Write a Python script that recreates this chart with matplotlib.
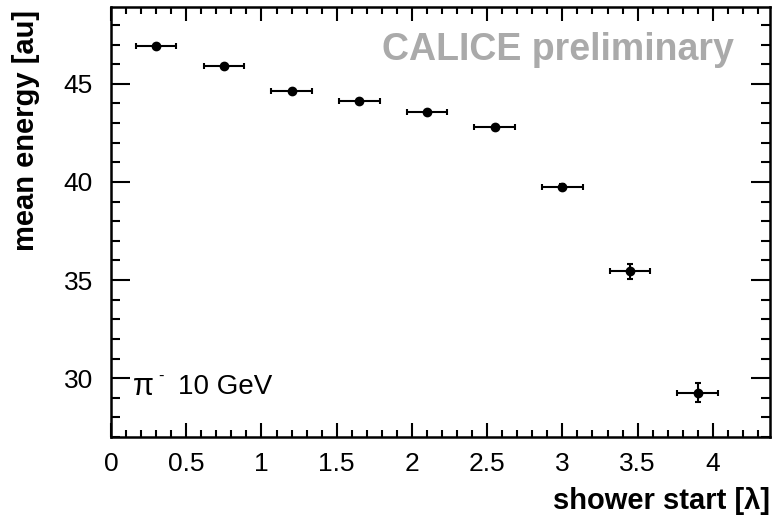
import matplotlib
matplotlib.use("Agg")
import matplotlib.pyplot as plt
from matplotlib.ticker import MultipleLocator

plt.rcParams['font.family'] = ['Liberation Sans', 'DejaVu Sans']

# --- data ---
shower_start = [0.30, 0.75, 1.20, 1.65, 2.10, 2.55, 3.00, 3.45, 3.90]
mean_energy = [46.95, 45.93, 44.62, 44.13, 43.55, 42.79, 39.72, 35.45, 29.26]
x_err = [0.135] * 9
y_err = [0.08, 0.09, 0.1, 0.1, 0.1, 0.12, 0.15, 0.38, 0.5]

fig = plt.figure(figsize=(7.72, 5.16), dpi=100)
ax = fig.add_axes([0.1438, 0.1531, 0.8536, 0.8328])

ax.errorbar(shower_start, mean_energy, xerr=x_err, yerr=y_err, fmt='o',
            color='black', ms=6, elinewidth=1.5, capsize=2.5, capthick=1.5)

ax.set_xlim(0, 4.38)
ax.set_ylim(27, 48.9)
ax.xaxis.set_minor_locator(MultipleLocator(0.1))
ax.yaxis.set_major_locator(MultipleLocator(5))
ax.yaxis.set_minor_locator(MultipleLocator(1))
ax.set_xticks([0, 0.5, 1, 1.5, 2, 2.5, 3, 3.5, 4])
ax.set_xticklabels(['0', '0.5', '1', '1.5', '2', '2.5', '3', '3.5', '4'])

ax.tick_params(which='both', direction='in', top=True, right=True,
               width=1.5, labelsize=19, colors='black')
ax.tick_params(axis='x', which='major', length=10, pad=11)
ax.tick_params(axis='x', which='minor', length=5)
ax.tick_params(axis='y', which='major', length=14, pad=13)
ax.tick_params(axis='y', which='minor', length=6.5)
for s in ax.spines.values():
    s.set_linewidth(1.8)

ax.set_xlabel('shower start [λ]', fontsize=21, fontweight='bold')
ax.xaxis.set_label_coords(1.0, -0.149)
ax.xaxis.label.set_horizontalalignment('right')
ax.xaxis.label.set_verticalalignment('center')
ax.set_ylabel('mean energy [au]', fontsize=21, fontweight='bold')
ax.yaxis.set_label_coords(-0.129, 0.993)
ax.yaxis.label.set_verticalalignment('center')
ax.yaxis.label.set_horizontalalignment('right')

ax.text(0.411, 0.90, 'CALICE preliminary', transform=ax.transAxes,
        fontsize=27, fontweight='bold', color='#aaaaaa', va='center', ha='left')
# pi^- label built from three pieces so the minus stays small and raised
ax.text(0.033, 0.116, 'π', transform=ax.transAxes,
        fontsize=22, va='center', ha='left')
ax.text(0.072, 0.14, '-', transform=ax.transAxes,
        fontsize=12, va='center', ha='left')
ax.text(0.102, 0.116, '10 GeV', transform=ax.transAxes,
        fontsize=20, va='center', ha='left')

fig.savefig('out.png', dpi=100)
